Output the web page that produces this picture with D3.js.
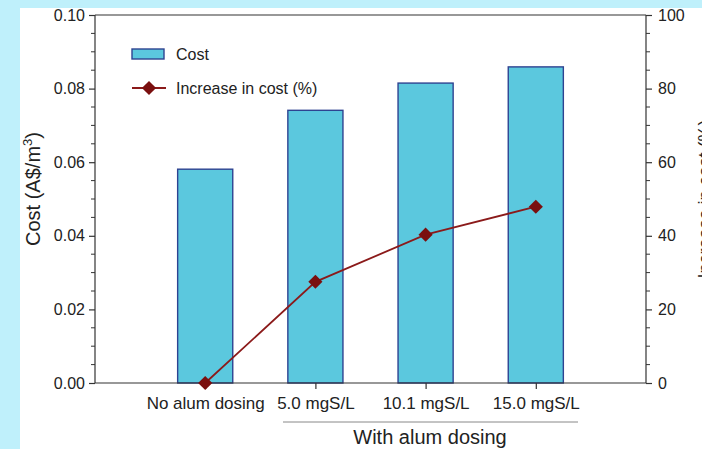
<!DOCTYPE html>
<html>
<head>
<meta charset="utf-8">
<script src="https://cdn.jsdelivr.net/npm/d3@7"></script>
<style>
  html, body { margin: 0; padding: 0; background: #bff0fb; }
  svg { display: block; }
  text { font-family: "Liberation Sans", Arial, Helvetica, sans-serif; fill: #222; }
</style>
</head>
<body>
<svg id="chart" width="702" height="449"></svg>
<script>
// Treatment categories along the x axis
const categories = ["No alum dosing", "5.0 mgS/L", "10.1 mgS/L", "15.0 mgS/L"];
// Unit cost of each treatment (A$/m3)
const costValues = [0.0581, 0.0741, 0.0815, 0.0859];
// Cost increase relative to the no-dosing case (%)
const increaseValues = [0, 27.5, 40.3, 47.9];
// Axis tick values
const leftTicks = [0, 0.02, 0.04, 0.06, 0.08, 0.10];
const rightTicks = [0, 20, 40, 60, 80, 100];

const svg = d3.select("#chart");
const W = 702, H = 449;
const plot = { left: 95, right: 646, top: 15, bottom: 383 };

// white panel
svg.append("rect").attr("x", 20).attr("y", 8).attr("width", W - 20).attr("height", H - 8).attr("fill", "#ffffff");

const x = d3.scaleLinear().domain([0, categories.length + 1]).range([plot.left, plot.right]);
const yL = d3.scaleLinear().domain([0, 0.10]).range([plot.bottom, plot.top]);
const yR = d3.scaleLinear().domain([0, 100]).range([plot.bottom, plot.top]);
const step = x(1) - x(0);
const barW = step * 0.5;

const axisColor = "#333";

// bars
svg.append("g").selectAll("rect").data(costValues).join("rect")
  .attr("x", (d, i) => x(i + 1) - barW / 2)
  .attr("y", d => yL(d))
  .attr("width", barW)
  .attr("height", d => yL(0) - yL(d))
  .attr("fill", "#5bc8de")
  .attr("stroke", "#2e4391")
  .attr("stroke-width", 1.4);

// top frame line
svg.append("line").attr("x1", plot.left).attr("x2", plot.right).attr("y1", plot.top).attr("y2", plot.top)
  .attr("stroke", axisColor).attr("stroke-width", 1.2);

// left axis with minor ticks
const leftAxis = d3.axisLeft(yL).tickValues(leftTicks).tickFormat(d3.format(".2f")).tickSize(6).tickPadding(4);
const gL = svg.append("g").attr("transform", `translate(${plot.left},0)`).call(leftAxis);
const leftMinor = d3.range(0, 0.1001, 0.005).filter(v => !leftTicks.some(t => Math.abs(t - v) < 1e-9));
svg.append("g").selectAll("line").data(leftMinor).join("line")
  .attr("x1", plot.left - 4).attr("x2", plot.left)
  .attr("y1", d => yL(d)).attr("y2", d => yL(d))
  .attr("stroke", axisColor).attr("stroke-width", 1);

// right axis with minor ticks
const rightAxis = d3.axisRight(yR).tickValues(rightTicks).tickFormat(d3.format("d")).tickSize(6).tickPadding(6);
const gR = svg.append("g").attr("transform", `translate(${plot.right},0)`).call(rightAxis);
const rightMinor = d3.range(0, 100.01, 5).filter(v => !rightTicks.includes(v));
svg.append("g").selectAll("line").data(rightMinor).join("line")
  .attr("x1", plot.right).attr("x2", plot.right + 4)
  .attr("y1", d => yR(d)).attr("y2", d => yR(d))
  .attr("stroke", axisColor).attr("stroke-width", 1);

// bottom axis
const bottomAxis = d3.axisBottom(x).tickValues(d3.range(1, categories.length + 1))
  .tickFormat(d => categories[d - 1]).tickSize(6).tickPadding(8);
const gB = svg.append("g").attr("transform", `translate(0,${plot.bottom})`).call(bottomAxis);

[gL, gR, gB].forEach(g => {
  g.select(".domain").attr("stroke", axisColor).attr("stroke-width", 1.2);
  g.selectAll(".tick line").attr("stroke", axisColor).attr("stroke-width", 1.2);
  g.selectAll(".tick text").attr("font-size", 16).attr("fill", "#222")
    .attr("font-family", "Liberation Sans, Arial, sans-serif");
});
gB.selectAll(".tick text").attr("font-size", 17);
gL.select(".domain").attr("d", `M0,${plot.top}V${plot.bottom}`);
gR.select(".domain").attr("d", `M0,${plot.top}V${plot.bottom}`);
gB.select(".domain").attr("d", `M${plot.left},0H${plot.right}`);

// increase line + diamond markers
const lineGen = d3.line().x((d, i) => x(i + 1)).y(d => yR(d));
svg.append("path").datum(increaseValues).attr("d", lineGen)
  .attr("fill", "none").attr("stroke", "#8b1a1a").attr("stroke-width", 1.8);
svg.append("g").selectAll("path").data(increaseValues).join("path")
  .attr("transform", (d, i) => `translate(${x(i + 1)},${yR(d)}) rotate(45)`)
  .attr("d", d3.symbol().type(d3.symbolSquare).size(100))
  .attr("fill", "#7a0f0f");

// group bracket for dosed cases
svg.append("line").attr("x1", 283).attr("x2", 578).attr("y1", 422).attr("y2", 422)
  .attr("stroke", "#888").attr("stroke-width", 1);
svg.append("text").attr("x", 430).attr("y", 444).attr("text-anchor", "middle")
  .attr("font-size", 20).text("With alum dosing");

// axis titles
const lt = svg.append("text").attr("transform", `translate(40,189) rotate(-90)`)
  .attr("text-anchor", "middle").attr("font-size", 20);
lt.append("tspan").text("Cost (A$/m");
lt.append("tspan").attr("font-size", 13).attr("dy", -8).text("3");
lt.append("tspan").attr("dy", 8).text(")");

svg.append("text").attr("transform", `translate(711,${(plot.top + plot.bottom) / 2}) rotate(-90)`)
  .attr("text-anchor", "middle").attr("font-size", 18).text("Increase in cost (%)");

// legend
svg.append("rect").attr("x", 132).attr("y", 49).attr("width", 32).attr("height", 10)
  .attr("fill", "#5bc8de").attr("stroke", "#2e4391").attr("stroke-width", 1.4);
svg.append("text").attr("x", 176).attr("y", 60).attr("font-size", 16).text("Cost");
svg.append("line").attr("x1", 132).attr("x2", 166).attr("y1", 88).attr("y2", 88)
  .attr("stroke", "#8b1a1a").attr("stroke-width", 1.8);
svg.append("path").attr("transform", "translate(149,88) rotate(45)")
  .attr("d", d3.symbol().type(d3.symbolSquare).size(100)).attr("fill", "#7a0f0f");
svg.append("text").attr("x", 176).attr("y", 93.5).attr("font-size", 16).text("Increase in cost (%)");
</script>
</body>
</html>
